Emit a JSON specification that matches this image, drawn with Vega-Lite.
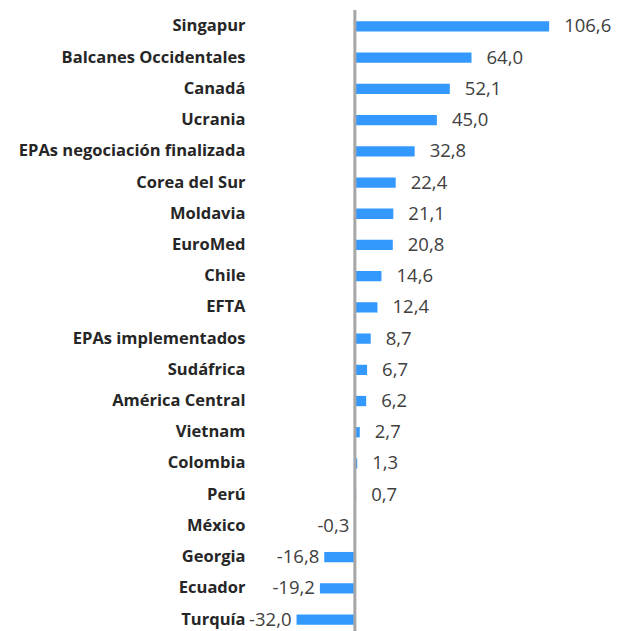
{
  "$schema": "https://vega.github.io/schema/vega-lite/v6.json",
  "autosize": {"type": "none"},
  "width": 359,
  "height": 624,
  "padding": {"left": 251, "top": 11, "right": 9, "bottom": 0},
  "background": "white",
  "config": {
    "view": {"stroke": null},
    "locale": {"number": {"decimal": ",", "thousands": ".", "grouping": [3], "currency": ["", " €"], "minus": "-"}}
  },
  "data": {
    "values": [
      {"pais": "Singapur", "valor": 106.6},
      {"pais": "Balcanes Occidentales", "valor": 64.0},
      {"pais": "Canadá", "valor": 52.1},
      {"pais": "Ucrania", "valor": 45.0},
      {"pais": "EPAs negociación finalizada", "valor": 32.8},
      {"pais": "Corea del Sur", "valor": 22.4},
      {"pais": "Moldavia", "valor": 21.1},
      {"pais": "EuroMed", "valor": 20.8},
      {"pais": "Chile", "valor": 14.6},
      {"pais": "EFTA", "valor": 12.4},
      {"pais": "EPAs implementados", "valor": 8.7},
      {"pais": "Sudáfrica", "valor": 6.7},
      {"pais": "América Central", "valor": 6.2},
      {"pais": "Vietnam", "valor": 2.7},
      {"pais": "Colombia", "valor": 1.3},
      {"pais": "Perú", "valor": 0.7},
      {"pais": "México", "valor": -0.3},
      {"pais": "Georgia", "valor": -16.8},
      {"pais": "Ecuador", "valor": -19.2},
      {"pais": "Turquía", "valor": -32.0}
    ]
  },
  "encoding": {
    "y": {
      "field": "pais", "type": "nominal", "sort": null,
      "scale": {"paddingInner": 0.67, "paddingOuter": 0.33},
      "axis": {"title": null, "domain": false, "ticks": false, "labelPadding": 6,
               "labelFont": "Open Sans", "labelFontSize": 16.5, "labelFontWeight": "bold", "labelColor": "#262626", "labelLimit": 300}
    },
    "x": {
      "field": "valor", "type": "quantitative",
      "scale": {"domain": [-57, 140], "nice": false, "zero": false},
      "axis": null
    }
  },
  "layer": [
    {"mark": {"type": "bar", "color": "#3399FF"}},
    {
      "data": {"values": [{"x": 0}]},
      "mark": {"type": "rule", "color": "#A6A6A6", "strokeWidth": 3},
      "encoding": {"x": {"field": "x", "type": "quantitative"}, "y": {"value": -1}, "y2": {"value": 620}}
    },
    {
      "transform": [{"filter": "datum.valor >= 0"}],
      "mark": {"type": "text", "align": "left", "dx": 15, "font": "Open Sans", "fontSize": 18.5, "color": "#404040"},
      "encoding": {"text": {"field": "valor", "type": "quantitative", "format": ".1f"}}
    },
    {
      "transform": [{"filter": "datum.valor < 0"}],
      "mark": {"type": "text", "align": "right", "dx": -5, "font": "Open Sans", "fontSize": 18.5, "color": "#404040"},
      "encoding": {"text": {"field": "valor", "type": "quantitative", "format": ".1f"}}
    }
  ]
}
